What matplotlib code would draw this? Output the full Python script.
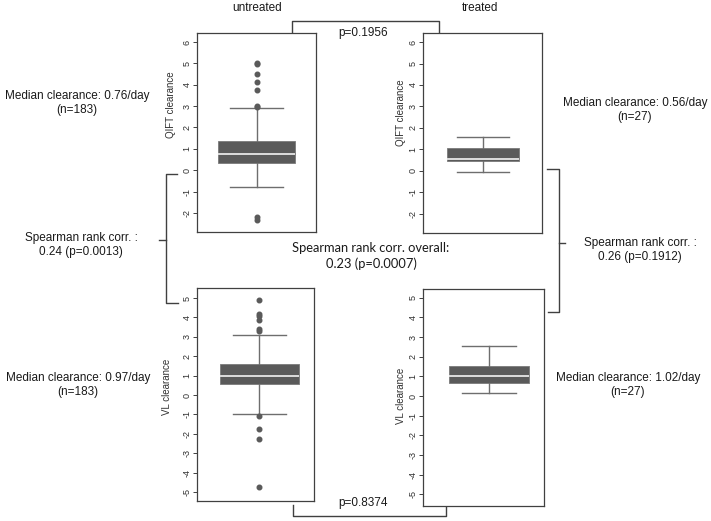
import matplotlib
matplotlib.use("Agg")
import matplotlib.pyplot as plt

plt.rcParams["font.family"] = ["Liberation Sans", "DejaVu Sans"]

# box statistics
groups = ["untreated", "treated"]
qift_untreated = dict(q1=0.35, med=0.76, q3=1.38, whislo=-0.80, whishi=2.93,
                      fliers=[5.0, 4.95, 4.5, 4.15, 3.75, 3.02, 2.97, -2.2, -2.32])
qift_treated = dict(q1=0.46, med=0.56, q3=1.07, whislo=-0.06, whishi=1.60, fliers=[])
vl_untreated = dict(q1=0.59, med=0.97, q3=1.62, whislo=-0.98, whishi=3.08,
                    fliers=[4.89, 4.19, 4.07, 3.85, 3.39, 3.3, -1.08, -1.77, -2.28, -4.72])
vl_treated = dict(q1=0.67, med=1.02, q3=1.53, whislo=0.15, whishi=2.53, fliers=[])

qift_ticks = list(range(-2, 7))
vl_ticks = list(range(-5, 6))

median_text = ["Median clearance: 0.76/day\n(n=183)", "Median clearance: 0.56/day\n(n=27)",
               "Median clearance: 0.97/day\n(n=183)", "Median clearance: 1.02/day\n(n=27)"]
spearman_text = ["Spearman rank corr. :\n0.24 (p=0.0013)", "Spearman rank corr. :\n0.26 (p=0.1912)",
                 "Spearman rank corr. overall:\n0.23 (p=0.0007)"]
pvals = ["p=0.1956", "p=0.8374"]

W, H = 711, 521
fig = plt.figure(figsize=(W / 100, H / 100), dpi=100)

# overlay in pixel coordinates for brackets and free text
ov = fig.add_axes([0, 0, 1, 1])
ov.set_xlim(0, W)
ov.set_ylim(H, 0)
ov.axis("off")

def panel(px, stats, ticks, ylim, label, label_xy, pos, width, capw):
    x0, y0, x1, y1 = px
    ax = fig.add_axes([x0 / W, 1 - y1 / H, (x1 - x0) / W, (y1 - y0) / H])
    s = dict(stats)
    s["mean"] = s["med"]
    ax.bxp([s], positions=[pos], widths=[width], capwidths=[capw],
           patch_artist=True, showfliers=True,
           boxprops=dict(facecolor="#5a5a5a", edgecolor="#7a7a7a", linewidth=0.6),
           medianprops=dict(color="#dcdcdc", linewidth=1.4),
           whiskerprops=dict(color="#6e6e6e", linewidth=1.0),
           capprops=dict(color="#6e6e6e", linewidth=1.0),
           flierprops=dict(marker="o", markersize=3.3, markerfacecolor="#5a5a5a",
                           markeredgecolor="#5a5a5a"))
    ax.set_xlim(0, 1)
    ax.set_ylim(*ylim)
    ax.set_xticks([])
    ax.set_yticks(ticks)
    ax.set_yticklabels([str(t) for t in ticks], rotation=90, va="center", fontsize=6.5)
    ax.tick_params(axis="y", length=3, width=0.7, pad=1.0, color="#404040", labelcolor="#303030")
    ax.set_ylabel(label, fontsize=7, color="#303030")
    ax.yaxis.set_label_coords(*label_xy)
    for sp in ax.spines.values():
        sp.set_color("#404040")
        sp.set_linewidth(0.9)
    return ax

panel((197, 33, 316, 232), qift_untreated, qift_ticks, (-2.89, 6.42), "QIFT clearance", (-0.176, 0.64), 0.50, 0.64, 0.44)
panel((423, 33, 542, 233), qift_treated, qift_ticks, (-2.89, 6.42), "QIFT clearance", (-0.143, 0.60), 0.505, 0.60, 0.44)
panel((197, 288, 314, 501), vl_untreated, vl_ticks, (-5.46, 5.52), "VL clearance", (-0.21, 0.535), 0.534, 0.675, 0.45)
panel((423, 289, 544, 506), vl_treated, vl_ticks, (-5.6, 5.45), "VL clearance", (-0.14, 0.507), 0.545, 0.66, 0.45)

lc = dict(color="#404040", linewidth=1.0)
ov.plot([292, 292, 439, 439], [33, 21, 21, 33], **lc)
ov.plot([293, 293, 446, 446], [505, 516, 516, 506], **lc)
ov.plot([177, 166, 166, 178], [174, 174, 303, 303], **lc)
ov.plot([166, 159], [240, 240], **lc)
ov.plot([547, 559, 559, 548], [169, 169, 312, 312], **lc)
ov.plot([559, 565], [243, 243], **lc)

tk = dict(ha="center", va="center", fontsize=8.5, color="#1a1a1a", linespacing=1.25)
ov.text(257, 8, groups[0], **tk)
ov.text(480, 8, groups[1], **tk)
ov.text(363, 33, pvals[0], **tk)
ov.text(363, 503, pvals[1], **tk)
ov.text(77, 103, median_text[0], **tk)
ov.text(635, 110, median_text[1], **tk)
ov.text(78, 385, median_text[2], **tk)
ov.text(628, 385, median_text[3], **tk)
ov.text(81, 245, spearman_text[0], **tk)
ov.text(640, 250, spearman_text[1], **tk)
ov.text(371, 256, spearman_text[2], ha="center", va="center", fontsize=9.3,
        color="#1a1a1a", linespacing=1.25, family=["Lato", "DejaVu Sans"])

fig.savefig("out.png", dpi=100)
